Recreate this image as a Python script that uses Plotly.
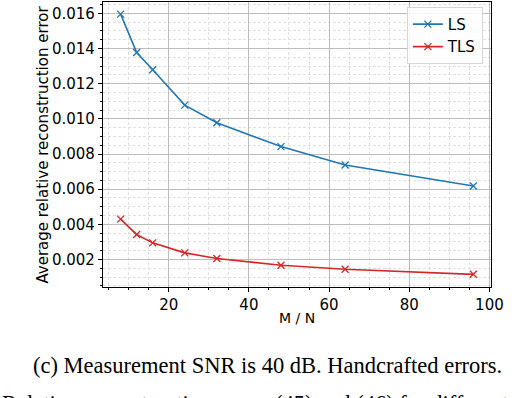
import plotly.graph_objects as go

# M / N ratios and average relative reconstruction errors
ratio = [8, 12, 16, 24, 32, 48, 64, 96]
ls_err = [0.01595, 0.01377, 0.01279, 0.01078, 0.00978, 0.00842, 0.00737, 0.00618]
tls_err = [0.00430, 0.00342, 0.00295, 0.00238, 0.00206, 0.00168, 0.00145, 0.00116]

caption = "(c) Measurement SNR is 40 dB. Handcrafted errors."
next_line = "Relative reconstruction errors (45) and (46) for different"

font = "DejaVu Sans"

fig = go.Figure()
fig.add_trace(go.Scatter(x=ratio, y=ls_err, name="LS", mode="lines+markers",
                         line=dict(color="#1f77b4", width=1.6),
                         marker=dict(symbol="x-thin", size=7, line=dict(color="#1f77b4", width=1.3))))
fig.add_trace(go.Scatter(x=ratio, y=tls_err, name="TLS", mode="lines+markers",
                         line=dict(color="#d62728", width=1.6),
                         marker=dict(symbol="x-thin", size=7, line=dict(color="#d62728", width=1.3))))

axis_style = dict(showline=True, linecolor="black", linewidth=1.3, mirror=True,
                  ticks="outside", ticklen=4, tickwidth=1, tickcolor="black",
                  showgrid=True, gridcolor="#bdbdbd", gridwidth=1, zeroline=False,
                  tickfont=dict(family=font, size=15, color="black"))

minor_grid = dict(ticklen=2, tickcolor="black", showgrid=True,
                  gridcolor="#e0e0e0", griddash="3px,2px", gridwidth=1)

fig.update_xaxes(range=[3.6, 100.4], dtick=20, tick0=0,
                 minor=dict(dtick=5, **minor_grid), **axis_style)
fig.update_yaxes(range=[0.00044, 0.01664], dtick=0.002, tick0=0, tickformat=".3f",
                 minor=dict(dtick=0.0005, **minor_grid), **axis_style)

fig.update_layout(
    width=524, height=398,
    margin=dict(l=103, r=33, t=2, b=111),
    plot_bgcolor="white", paper_bgcolor="white",
    font=dict(family=font, size=15, color="black"),
    showlegend=True,
    legend=dict(x=0.979, y=0.983, xanchor="right", yanchor="top",
                bgcolor="rgba(255,255,255,0.85)", bordercolor="#d6d6d6", borderwidth=1,
                itemwidth=30, tracegroupgap=0,
                font=dict(family=font, size=15)),
    annotations=[
        dict(text="Average relative reconstruction error", textangle=-90,
             xref="paper", yref="paper", x=-0.157, y=0.5, showarrow=False,
             xanchor="center", yanchor="middle", font=dict(family=font, size=15)),
        dict(text="M / N", xref="paper", yref="paper", x=0.5, y=-0.1105,
             showarrow=False, xanchor="center", yanchor="middle",
             font=dict(family=font, size=14)),
        dict(text=caption, xref="paper", yref="paper", x=0.425, y=-0.2737,
             showarrow=False, xanchor="center", yanchor="middle",
             font=dict(family="Liberation Serif", size=22.5)),
        dict(text=next_line, xref="paper", yref="paper", x=-0.265, y=-0.41,
             showarrow=False, xanchor="left", yanchor="middle",
             font=dict(family="Liberation Serif", size=22.5)),
    ],
)

# drop the browser's default 8px body margin so the figure sits at the page corner
fig.write_html("out.html", config={"displayModeBar": False},
               post_script="document.body.style.margin='0';")
